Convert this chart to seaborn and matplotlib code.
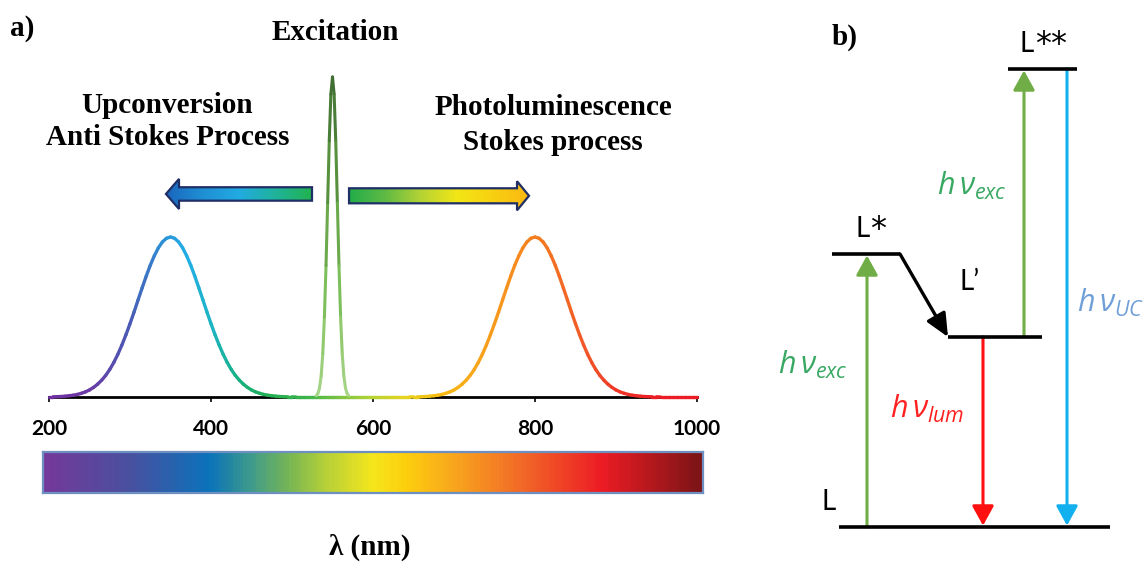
import numpy as np
import matplotlib
matplotlib.use("Agg")
import matplotlib.pyplot as plt
import seaborn as sns
from matplotlib.collections import LineCollection
from matplotlib.colors import LinearSegmentedColormap, Normalize
from matplotlib.patches import Polygon

# ------------------------------------------------------------------ data
wavelength_nm = np.arange(200, 1001, 5)
emission = [
    # 200 - 500 nm (upconversion band)
    0.001, 0.001, 0.002, 0.003, 0.005, 0.008, 0.011, 0.016, 0.023, 0.032,
    0.044, 0.060, 0.080, 0.105, 0.135, 0.172, 0.216, 0.267, 0.325, 0.389,
    0.458, 0.531, 0.607, 0.682, 0.755, 0.823, 0.882, 0.932, 0.969, 0.992,
    1.000,
    0.992, 0.969, 0.932, 0.882, 0.823, 0.755, 0.682, 0.607, 0.531, 0.458,
    0.389, 0.325, 0.267, 0.216, 0.172, 0.135, 0.105, 0.080, 0.060, 0.044,
    0.032, 0.023, 0.016, 0.011, 0.008, 0.005, 0.003, 0.002, 0.001, 0.001,
    # 505 - 645 nm
    0.0, 0.0, 0.0, 0.0, 0.0, 0.0, 0.0, 0.0, 0.0, 0.0,
    0.0, 0.0, 0.0, 0.0, 0.0, 0.0, 0.0, 0.0, 0.0, 0.0,
    0.0, 0.0, 0.0, 0.0, 0.0, 0.0, 0.0, 0.0, 0.0,
    # 650 - 950 nm (photoluminescence band)
    0.001, 0.001, 0.002, 0.003, 0.005, 0.008, 0.011, 0.016, 0.023, 0.032,
    0.044, 0.060, 0.080, 0.105, 0.135, 0.172, 0.216, 0.267, 0.325, 0.389,
    0.458, 0.531, 0.607, 0.682, 0.755, 0.823, 0.882, 0.932, 0.969, 0.992,
    1.000,
    0.992, 0.969, 0.932, 0.882, 0.823, 0.755, 0.682, 0.607, 0.531, 0.458,
    0.389, 0.325, 0.267, 0.216, 0.172, 0.135, 0.105, 0.080, 0.060, 0.044,
    0.032, 0.023, 0.016, 0.011, 0.008, 0.005, 0.003, 0.002, 0.001, 0.001,
    # 955 - 1000 nm
    0.0, 0.0, 0.0, 0.0, 0.0, 0.0, 0.0, 0.0, 0.0, 0.0]
excitation_nm = np.arange(530, 571, 2)
excitation = [0.008, 0.022, 0.057, 0.131, 0.271, 0.499, 0.822, 1.213, 1.601, 1.892,
              2.000, 1.892, 1.601, 1.213, 0.822, 0.499, 0.271, 0.131, 0.057, 0.022, 0.008]
tick_nm = [200, 400, 600, 800, 1000]
bar_nm = np.arange(200, 1001, 4)

level_names = ["L", "L*", "L\u2019", "L**"]
level_energy = [0.0, 2.73, 1.90, 4.58]
transitions = [("L", "L*"), ("L\u2019", "L"), ("L\u2019", "L**"), ("L**", "L")]
transition_labels = [r"$h\,\nu_{exc}$", r"$h\,\nu_{lum}$", r"$h\,\nu_{exc}$", r"$h\,\nu_{UC}$"]

# ------------------------------------------------------------------ style
sns.set_theme(style="white")
plt.rcParams.update({
    "font.family": ["Liberation Serif", "DejaVu Serif"],
    "text.color": "black",
    "xtick.color": "black",
    "mathtext.fontset": "custom",
    "mathtext.it": "Open Sans:italic",
    "mathtext.rm": "Open Sans",
})

W, H = 1145, 563
fig = plt.figure(figsize=(W / 100, H / 100), dpi=100)
fig.patch.set_facecolor("white")


def fx(x):
    return x / W


def fy(y):
    return 1 - y / H


serif = dict(family=["Liberation Serif", "DejaVu Serif"], weight="bold", size=21,
             color="black")

curve_cmap = LinearSegmentedColormap.from_list("curve", [
    (0.0, "#7030a0"), (0.0625, "#6a3aa5"), (0.125, "#4a5bb5"), (0.175, "#2d8fd5"),
    (0.2125, "#22aee6"), (0.25, "#1cb3c4"), (0.2875, "#19b18a"), (0.3375, "#20ae55"),
    (0.4, "#3cb44a"), (0.45, "#7cc242"), (0.5, "#b5d334"), (0.55, "#e4d41e"),
    (0.6, "#f7be12"), (0.6625, "#f8a51b"), (0.725, "#f68b1f"), (0.775, "#f37321"),
    (0.825, "#f05a28"), (0.875, "#ee3a26"), (0.9375, "#ec1c24"), (1.0, "#ec1c24")])
bar_cmap = LinearSegmentedColormap.from_list("bar", [
    (0.0, "#74399a"), (0.125, "#4a4f9f"), (0.25, "#0a72ba"), (0.3125, "#3d9a8c"),
    (0.375, "#7ab752"), (0.425, "#b3cf3a"), (0.5, "#f5e61c"), (0.55, "#fccf0d"),
    (0.625, "#f8a51d"), (0.725, "#f26a27"), (0.85, "#ec1c24"), (1.0, "#7b1416")])
exc_cmap = LinearSegmentedColormap.from_list("exc", ["#a8d68a", "#7fbf5a", "#5a963f", "#3f6c32"])

# ------------------------------------------------------------------ panel a
ax_a = fig.add_axes([fx(49), fy(397), 648 / W, 337 / H])
ax_a.patch.set_alpha(0)

pts = np.column_stack([wavelength_nm, emission])
segs = np.stack([pts[:-1], pts[1:]], axis=1)
lc = LineCollection(segs, cmap=curve_cmap, norm=Normalize(200, 1000), linewidths=2.4,
                    capstyle="round", joinstyle="round", zorder=3, clip_on=False)
lc.set_array(0.5 * (pts[:-1, 0] + pts[1:, 0]))
ax_a.add_collection(lc)

pe = np.column_stack([excitation_nm, excitation])
segs_e = np.stack([pe[:-1], pe[1:]], axis=1)
lce = LineCollection(segs_e, cmap=exc_cmap, norm=Normalize(0, 2.0), linewidths=2.2,
                     capstyle="round", joinstyle="round", zorder=4, clip_on=False)
lce.set_array(0.5 * (pe[:-1, 1] + pe[1:, 1]))
ax_a.add_collection(lce)


def gradient_arrow(ax, verts, colors):
    xs = [v[0] for v in verts]
    ys = [v[1] for v in verts]
    cm = LinearSegmentedColormap.from_list("g", colors)
    grad = np.linspace(0, 1, 256).reshape(1, -1)
    im = ax.imshow(grad, extent=[min(xs), max(xs), min(ys), max(ys)], cmap=cm,
                   aspect="auto", origin="lower", zorder=5, interpolation="bilinear")
    poly = Polygon(verts, closed=True, facecolor="none", edgecolor="#1f2f66",
                   linewidth=1.6, zorder=6, joinstyle="miter")
    ax.add_patch(poly)
    im.set_clip_path(poly)


yc, sh, hh = 1.269, 0.042, 0.094
gradient_arrow(ax_a, [(344.4, yc), (360.5, yc + hh), (360.5, yc + sh), (524.7, yc + sh),
                      (524.7, yc - sh), (360.5, yc - sh), (360.5, yc - hh)],
               ["#1a66bd", "#1f8fd4", "#22abe2", "#1fb39a", "#22b24c"])
yc2, sh2, hh2 = 1.2575, 0.047, 0.091
gradient_arrow(ax_a, [(792.6, yc2), (777.8, yc2 + hh2), (777.8, yc2 + sh2), (570.4, yc2 + sh2),
                      (570.4, yc2 - sh2), (777.8, yc2 - sh2), (777.8, yc2 - hh2)],
               ["#22ad4a", "#5fba44", "#b5d334", "#f2e616", "#f8d010", "#fbb813"])

ax_a.set_xlim(200, 1000)
ax_a.set_ylim(0, 337 / 160)
ax_a.set_yticks([])
ax_a.set_xticks(tick_nm)
ax_a.set_xticklabels([str(t) for t in tick_nm])
for lab in ax_a.get_xticklabels():
    lab.set_fontfamily(["Liberation Sans Narrow", "Lato", "DejaVu Sans"])
    lab.set_fontweight("bold")
    lab.set_fontsize(15)
    lab.set_color("black")
ax_a.tick_params(axis="x", bottom=True, direction="out", length=3.6, width=1.2,
                 pad=12, colors="black")
for side in ["top", "left", "right"]:
    ax_a.spines[side].set_visible(False)
ax_a.spines["bottom"].set_color("black")
ax_a.spines["bottom"].set_linewidth(2.0)

# spectrum bar
ax_bar = fig.add_axes([fx(43), fy(493), 660 / W, 41 / H])
sns.heatmap(np.array([bar_nm]), cmap=bar_cmap, vmin=200, vmax=1000, cbar=False,
            xticklabels=False, yticklabels=False, ax=ax_bar)
for sp in ax_bar.spines.values():
    sp.set_visible(True)
    sp.set_edgecolor("#6d90c0")
    sp.set_linewidth(1.6)

fig.text(fx(10), fy(36), "a)", ha="left", va="baseline", **serif)
fig.text(fx(335), fy(40), "Excitation", ha="center", va="baseline", **serif)
fig.text(fx(167), fy(113), "Upconversion", ha="center", va="baseline", **serif)
fig.text(fx(168), fy(145), "Anti Stokes Process", ha="center", va="baseline", **serif)
fig.text(fx(553), fy(115), "Photoluminescence", ha="center", va="baseline", **serif)
fig.text(fx(553), fy(150), "Stokes process", ha="center", va="baseline", **serif)
fig.text(fx(370), fy(555), "\u03bb (nm)", ha="center", va="baseline", **serif)

# ------------------------------------------------------------------ panel b
ax_b = fig.add_axes([fx(800), 0, 345 / W, 1])
ax_b.set_xlim(800, 1145)
ax_b.set_ylim((527 - 563) / 100, 527 / 100)
ax_b.axis("off")


def ey(ypx):
    return (527 - ypx) / 100


E = dict(zip(level_names, level_energy))
level_x = {"L": (839, 1110), "L*": (832, 900), "L\u2019": (948, 1042), "L**": (1008, 1077)}
for name in level_names:
    x0, x1 = level_x[name]
    ax_b.plot([x0, x1], [E[name], E[name]], color="black", lw=2.6,
              solid_capstyle="butt", zorder=3)

# relaxation L* -> L'
ax_b.annotate("", xy=(948, E["L\u2019"]), xytext=(900, E["L*"]),
              arrowprops=dict(arrowstyle="-|>,head_length=0.7,head_width=0.32",
                              mutation_scale=20, color="black", lw=2.4,
                              shrinkA=0, shrinkB=0), zorder=4)

trans_x = [867, 983, 1024, 1067]
trans_colors = ["#70ad47", "#ff1010", "#70ad47", "#12b0ee"]
for (a, b), xx, col in zip(transitions, trans_x, trans_colors):
    ax_b.annotate("", xy=(xx, E[b]), xytext=(xx, E[a]),
                  arrowprops=dict(arrowstyle="-|>,head_length=0.6,head_width=0.33",
                                  mutation_scale=20, color=col, lw=2.2,
                                  shrinkA=0, shrinkB=1), zorder=2)

label_pos = [(778, 374), (890, 418), (937, 195), (1077, 312)]
label_colors = ["#38a862", "#ff2020", "#38a862", "#6f9fd8"]
for txt, (px, py), col in zip(transition_labels, label_pos, label_colors):
    ax_b.text(px, ey(py), txt, color=col, fontsize=22, ha="left", va="baseline")

sans = ["Lato", "Open Sans", "DejaVu Sans"]
level_label_pos = {"L": (822, 510), "L*": (855, 237), "L\u2019": (960, 290), "L**": (1020, 52)}
for name in level_names:
    px, py = level_label_pos[name]
    base = name.rstrip("*")
    stars = name[len(base):]
    ax_b.text(px, ey(py), base, color="black", fontsize=20, family=sans,
              ha="left", va="baseline")
    if stars:
        ax_b.text(px + 15, ey(py + 1), stars, color="black", fontsize=23,
                  family=["DejaVu Sans"], ha="left", va="baseline")

fig.text(fx(832), fy(45), "b)", ha="left", va="baseline", **serif)

fig.savefig("out.png", dpi=100, facecolor="white")
